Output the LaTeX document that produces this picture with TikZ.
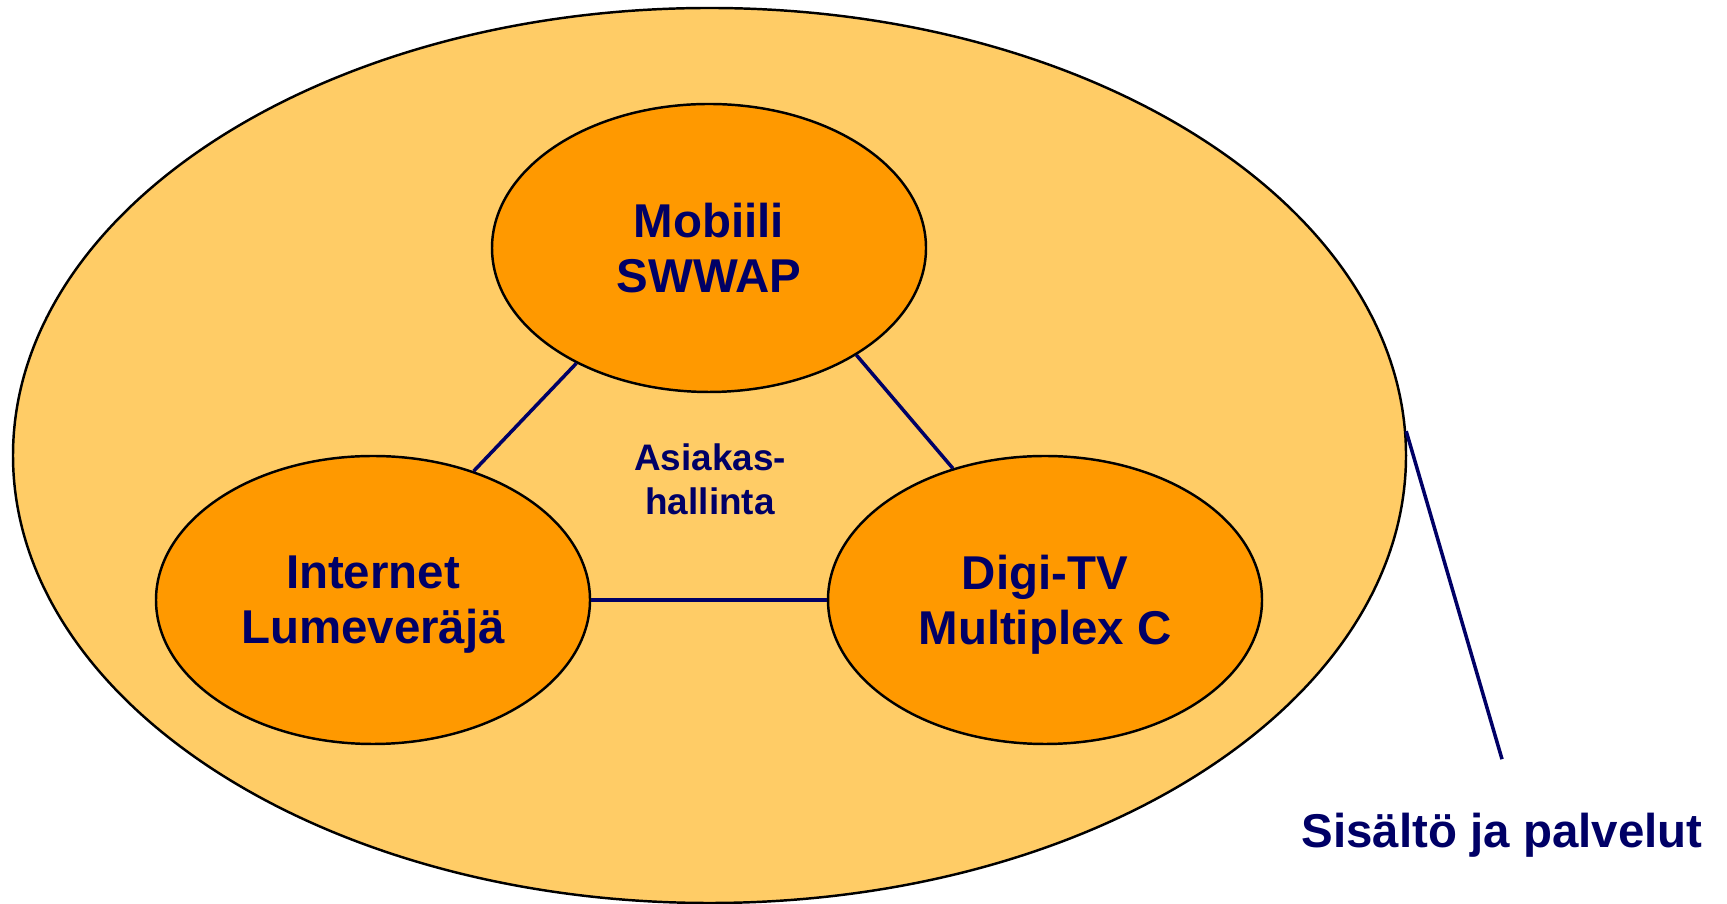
\documentclass[tikz,border=0pt]{standalone}
\usepackage{fontspec}
\setmainfont{Liberation Sans}
\usetikzlibrary{shapes}

\definecolor{navy}{RGB}{0,0,102}
\definecolor{paleorange}{RGB}{255,204,102}
\definecolor{deeporange}{RGB}{255,153,0}

\tikzset{
	field/.style={ellipse,draw,line width=0.7pt,inner sep=0pt,text depth=0pt,
		minimum width=4.34cm,minimum height=2.88cm,fill=deeporange,
		text=navy,align=center,font=\fontsize{13.5}{15.6}\selectfont\bfseries},
	link/.style={draw=navy,line width=1pt}
}

\begin{document}
\begin{tikzpicture}

	\def\rowy{3.04}
	
	\useasboundingbox (0,0) rectangle (17.27,9.04);
	
	\node[ellipse,draw,line width=0.7pt,fill=paleorange,minimum width=13.93cm,minimum height=8.95cm,inner sep=0pt] (outer) at (7.095,4.485) {};
	
	\node[field] (mobiili) at (7.09,6.56) {Mobiili\\SWWAP};
	\node[field] (internet) at (3.73,\rowy) {Internet\\Lumeveräjä};
	\node[field] (digitv) at (10.45,\rowy) {Digi-TV\\Multiplex C};
	
	\node[text=navy,align=center,font=\fontsize{10.5}{12.6}\selectfont\bfseries] (asiakas) at (7.10,4.25) {Asiakas-\\hallinta};
	
	\node[text=navy,anchor=base,font=\fontsize{13.5}{15.6}\selectfont\bfseries] (sisalto) at (15.02,0.56) {Sisältö ja palvelut};
	
	\path[link] (mobiili.221) -- (internet.52);
	\path[link] (mobiili.324) -- (digitv.125);
	\path[link] (internet.east) -- (digitv.west);
	
	\path[link] (outer.2) -- ([yshift=4.2mm]sisalto.north);
	
\end{tikzpicture}
\end{document}
